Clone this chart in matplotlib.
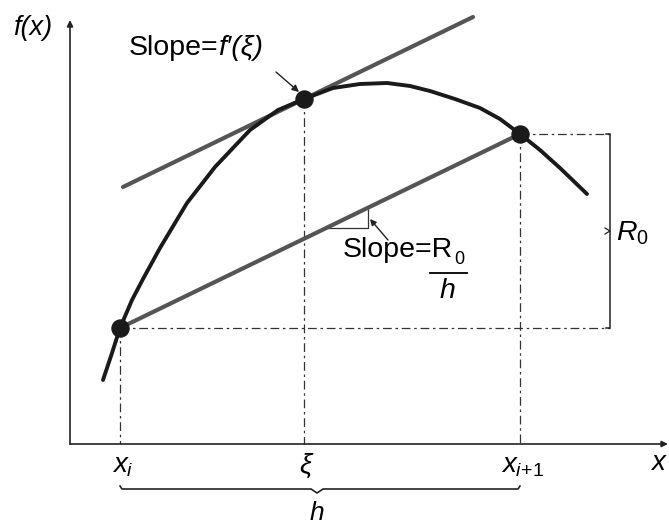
import numpy as np
import matplotlib.pyplot as plt

plt.rcParams['font.family'] = ['Liberation Sans', 'DejaVu Sans']
plt.rcParams['mathtext.fontset'] = 'custom'
plt.rcParams['mathtext.rm'] = 'Liberation Sans'
plt.rcParams['mathtext.it'] = 'Liberation Sans:italic'

# curve f(x) (pixel frame of the figure, y grows downwards)
curve_x = [103, 112, 120, 132, 143, 160, 187, 215, 250, 278, 304, 333, 360, 387,
           410, 430, 455, 480, 500, 520, 540, 560, 587]
curve_y = [380, 353, 328, 300, 279, 248, 203, 167, 130, 110, 99, 88, 84, 83,
           86, 91, 99, 108, 119, 134, 150, 168, 194]

# marked points: x_i, xi, x_{i+1}
pts_x = [120, 304, 520]
pts_y = [328, 99, 134]
tick_labels = [r'$x_{\mathit{i}}$', r'$\xi$', r'$x_{\mathit{i}\!+\!\mathit{1}}$']

# tangent at xi and secant through x_i, x_{i+1}
tan_x = [123, 473]
tan_y = [187, 17]
sec_x = [pts_x[0], pts_x[2]]
sec_y = [pts_y[0], pts_y[2]]

axis_y = 444      # x-axis position
axis_x = 70       # y-axis position
r0_x = 610        # R0 bracket position
brace_y = 489

fig = plt.figure(figsize=(6.69, 5.26), dpi=100)
ax = fig.add_axes([0, 0, 1, 1])
ax.set_xlim(0, 669)
ax.set_ylim(526, 0)
ax.axis('off')

# axes with arrows
ax.annotate('', xy=(axis_x, 20), xytext=(axis_x, axis_y),
            arrowprops=dict(arrowstyle='-|>', lw=1.2, color='#222222', mutation_scale=9, shrinkA=0, shrinkB=0))
ax.annotate('', xy=(668, axis_y), xytext=(axis_x, axis_y),
            arrowprops=dict(arrowstyle='-|>', lw=1.2, color='#222222', mutation_scale=9, shrinkA=0, shrinkB=0))

# dashed drop lines
dash = dict(color='#333333', lw=0.9, ls=(0, (7, 3, 2, 3)))
for px, py in zip(pts_x, pts_y):
    ax.plot([px, px], [py, axis_y], **dash)
ax.plot([pts_x[0], r0_x], [pts_y[0], pts_y[0]], **dash)
ax.plot([pts_x[2], r0_x], [pts_y[2], pts_y[2]], **dash)

# R0 bracket
ax.plot([r0_x - 4, r0_x, r0_x, r0_x - 4], [pts_y[2], pts_y[2], pts_y[0], pts_y[0]],
        color='#222222', lw=1.1)
mid = (pts_y[0] + pts_y[2]) / 2
ax.plot([r0_x - 5, r0_x, r0_x - 5], [mid - 3, mid, mid + 3], color='#222222', lw=0.9)

# tangent and secant
ax.plot(tan_x, tan_y, color='#555555', lw=3.0, solid_capstyle='round', zorder=3)
ax.plot(sec_x, sec_y, color='#555555', lw=3.0, solid_capstyle='round', zorder=3)

# the curve
ax.plot(curve_x, curve_y, color='#1a1a1a', lw=2.8, solid_capstyle='round',
        solid_joinstyle='round', zorder=4)
ax.scatter(pts_x, pts_y, s=150, color='#1a1a1a', zorder=5)

# slope triangle on the secant
k = (sec_y[1] - sec_y[0]) / (sec_x[1] - sec_x[0])
tri_x0, tri_x1 = 326, 368
ty0 = sec_y[0] + k * (tri_x0 - sec_x[0])
ty1 = sec_y[0] + k * (tri_x1 - sec_x[0])
ax.plot([tri_x0, tri_x1, tri_x1], [ty0, ty0, ty1], color='#333333', lw=0.9, zorder=2)

# labels
fs = 20.5
ax.text(33, 28, 'f(x)', fontsize=19.5, style='italic', ha='center', va='center')
ax.text(218, 48, 'Slope=', fontsize=fs, ha='right', va='center')
ax.text(218, 48, 'f\u2032(\u03be)', fontsize=fs, style='italic', ha='left', va='center')
ax.annotate('', xy=(299, 92), xytext=(276, 72),
            arrowprops=dict(arrowstyle='-|>', lw=1.0, color='#222222', mutation_scale=10, shrinkA=0, shrinkB=0))

ax.text(343, 250, 'Slope=R', fontsize=fs, ha='left', va='center')
ax.text(454, 259, '0', fontsize=13, ha='left', va='center')
ax.plot([430, 467], [273, 273], color='#111111', lw=1.4)
ax.text(447, 291, 'h', fontsize=fs, style='italic', ha='center', va='center')
ax.annotate('', xy=(370, 219), xytext=(388, 240),
            arrowprops=dict(arrowstyle='-|>', lw=1.0, color='#222222', mutation_scale=9, shrinkA=0, shrinkB=0))

ax.text(616, 233, r'$R_{\mathit{0}}$', fontsize=fs, ha='left', va='center')

for px, lab in zip(pts_x, tick_labels):
    ax.text(px + 3, 466, lab, fontsize=20, ha='center', va='center')
ax.text(668, 463, '$x$', fontsize=20, ha='right', va='center')

# brace for h
bx0, bx1, bm = pts_x[0], pts_x[2], 317
ax.plot([bx0, bx0 + 2, bm - 6, bm, bm + 6, bx1 - 2, bx1],
        [brace_y - 3, brace_y, brace_y, brace_y + 4, brace_y, brace_y, brace_y - 3],
        color='#222222', lw=1.2)
ax.text(bm, 513, '$h$', fontsize=19, ha='center', va='center')

fig.savefig('out.png', dpi=100)
